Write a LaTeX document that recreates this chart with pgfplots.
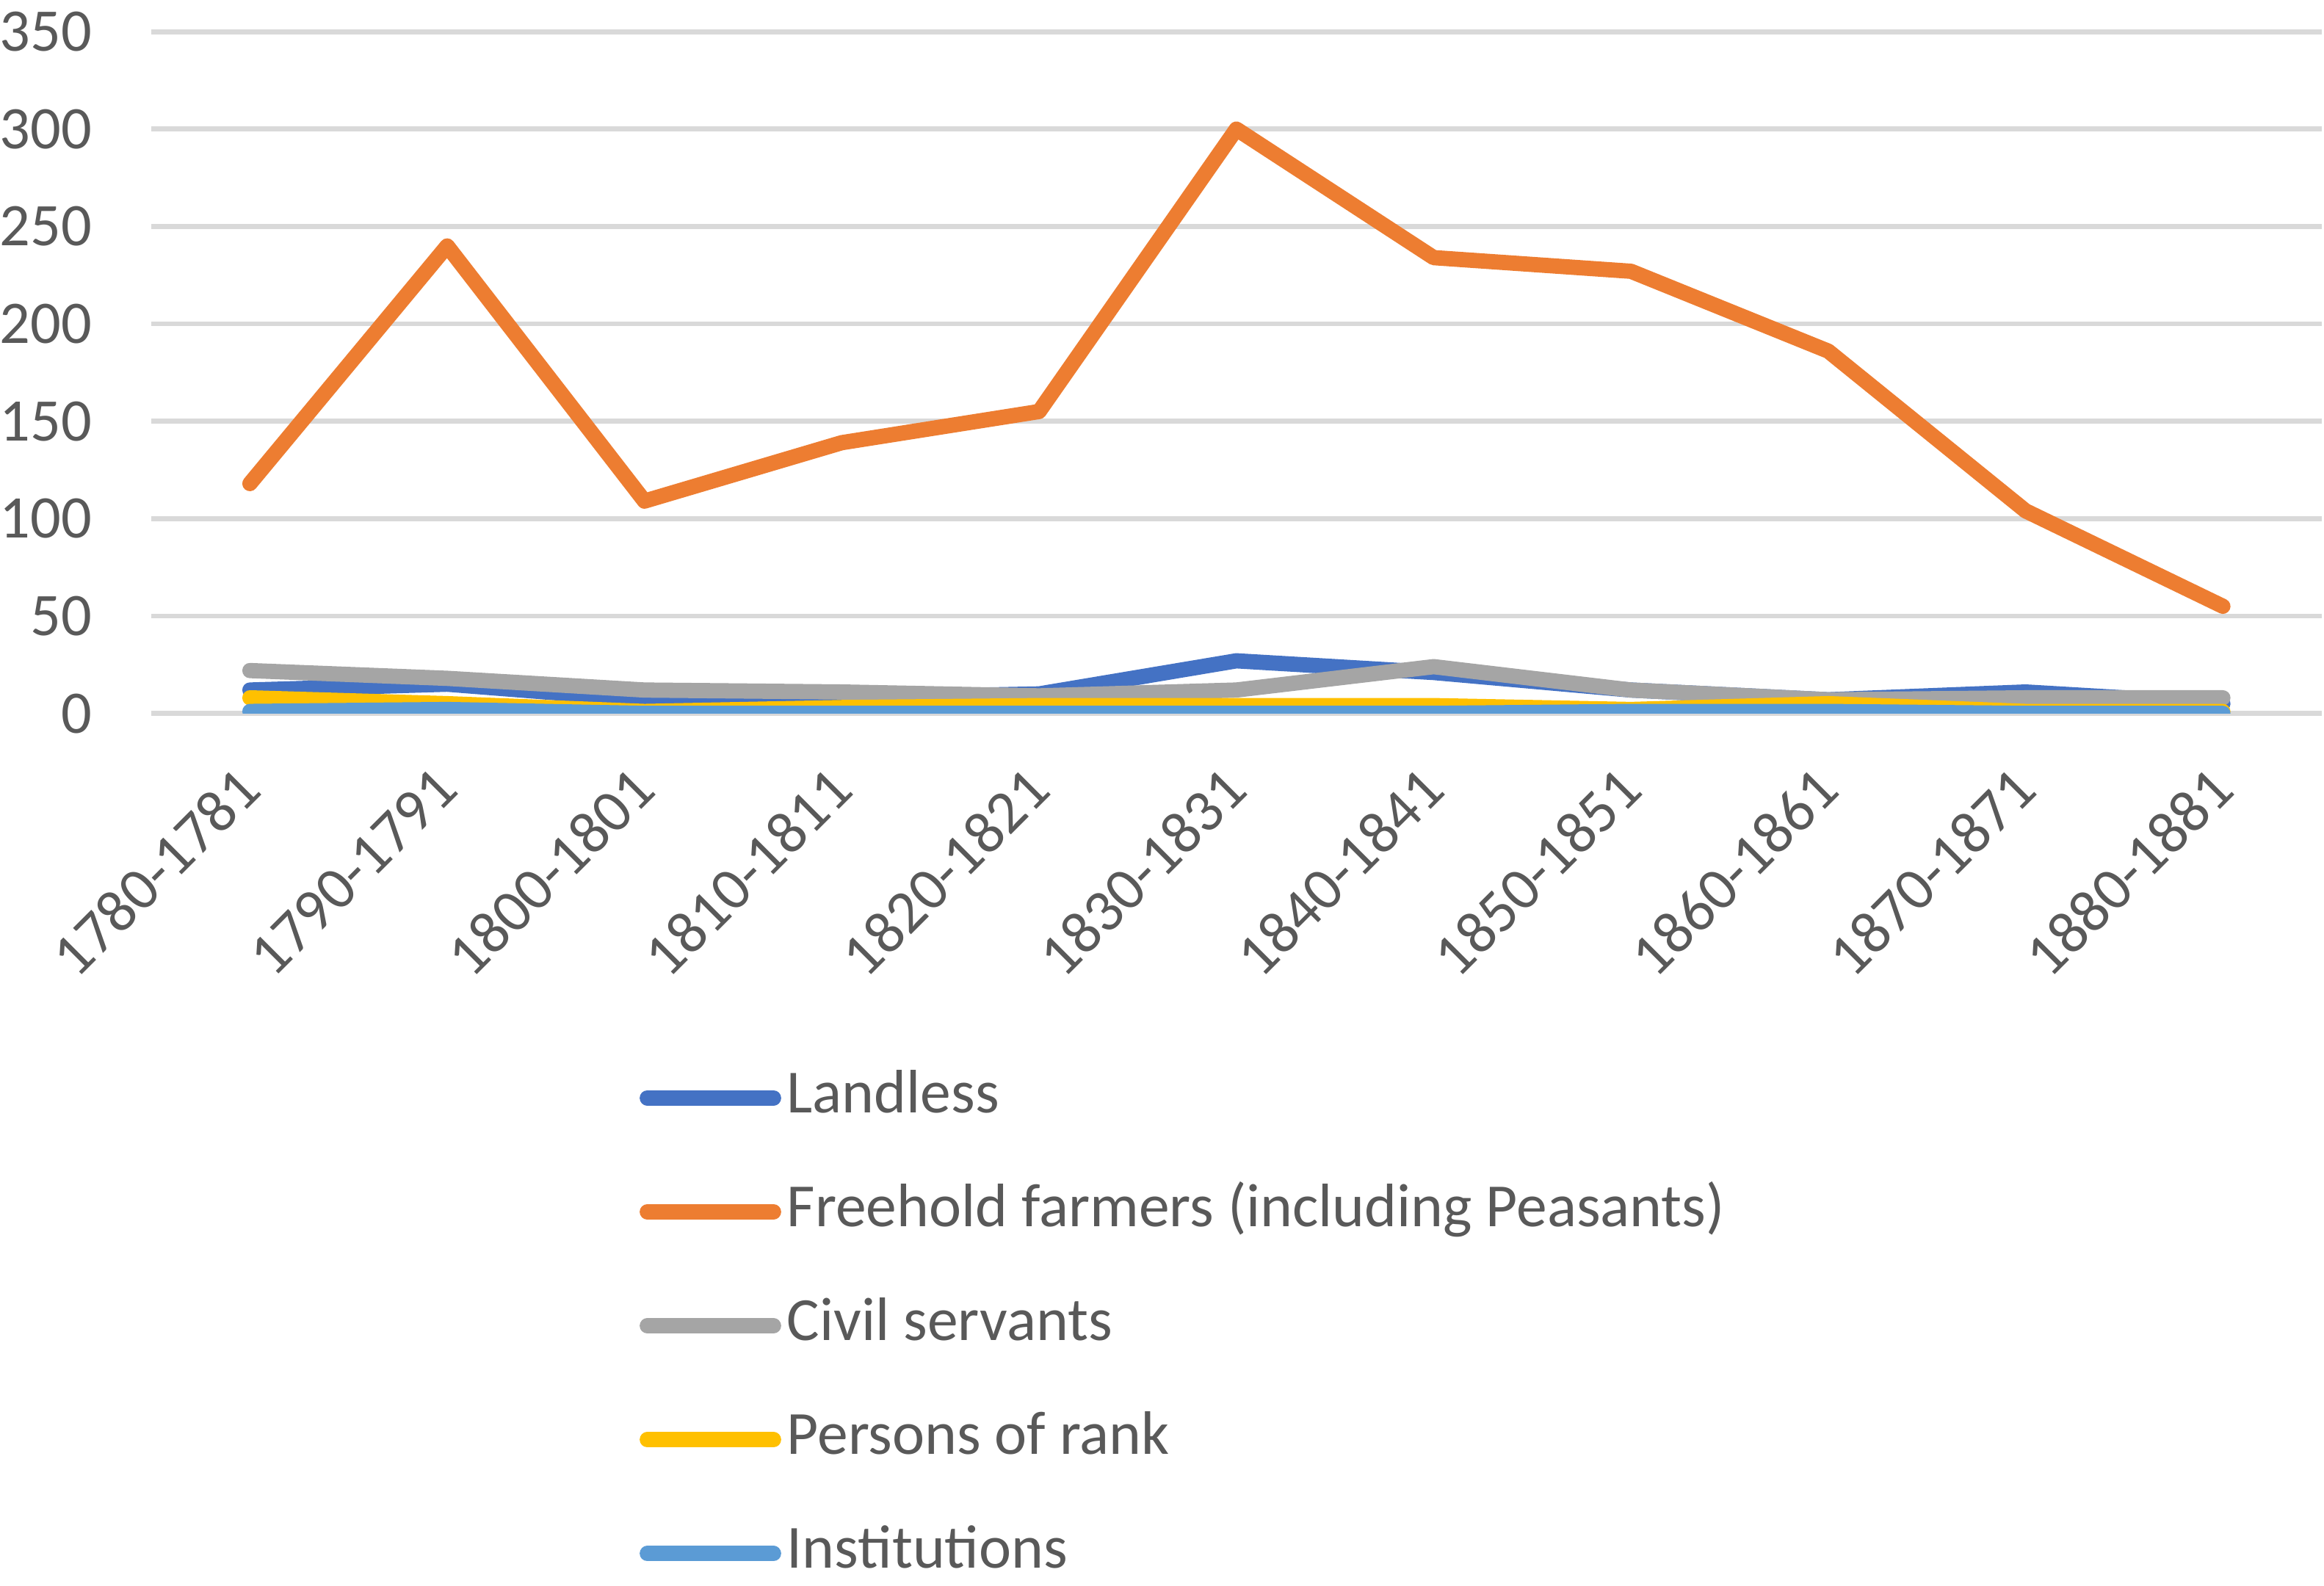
\documentclass[border=0pt]{standalone}
\usepackage{pgfplots}
\pgfplotsset{compat=1.18}
\usepackage{fontspec}
\setmainfont{Carlito}
\definecolor{cLand}{HTML}{4472C4}
\definecolor{cFree}{HTML}{ED7D31}
\definecolor{cCivil}{HTML}{A5A5A5}
\definecolor{cRank}{HTML}{FFC000}
\definecolor{cInst}{HTML}{5B9BD5}
\definecolor{cGrid}{HTML}{D9D9D9}
\definecolor{cText}{HTML}{595959}
\begin{document}
\begin{tikzpicture}
\begin{axis}[
  at={(0,0)}, anchor=south west,
  scale only axis,
  width=369.6pt, height=116.1pt,
  xmin=-0.5, xmax=10.5,
  ymin=0, ymax=350,
  ytick={0,50,...,350},
  xtick={0,...,10},
  xticklabels={1780-1781,1790-1791,1800-1801,1810-1811,1820-1821,1830-1831,1840-1841,1850-1851,1860-1861,1870-1871,1880-1881},
  axis line style={draw=none},
  major tick length=0pt,
  ymajorgrids,
  grid style={cGrid, line width=0.85pt},
  font=\fontsize{10.3}{12}\selectfont,
  tick label style={text=cText},
  /pgf/number format/assume math mode=true,
  yticklabel style={anchor=east, inner sep=0pt, xshift=-9.9pt},
  xticklabel style={rotate=45, anchor=east, inner sep=0pt},
  xticklabel shift=11pt,
  every axis plot/.append style={line width=2.6pt, line cap=round, line join=round, no markers},
  legend style={at={(rel axis cs:0.2245,-0.515)}, anchor=north west, draw=none, fill=none,
    inner sep=0pt, row sep=8.4pt, text=cText,
    font=\fontsize{10.45}{12}\selectfont,
    nodes={inner sep=1pt, text height=7pt, text depth=2pt}},
  legend cell align=left,
  legend image code/.code={\draw[#1, line width=2.6pt, line cap=round] (1.3pt,0pt) -- (22.8pt,0pt);},
]
\addplot[cLand] coordinates {(0,12) (1,15) (2,7) (3,8) (4,10) (5,27) (6,21) (7,12) (8,7) (9,11) (10,5)};
\addlegendentry{Landless}
\addplot[cFree] coordinates {(0,118) (1,240) (2,109) (3,139) (4,155) (5,300) (6,234) (7,227) (8,186) (9,104) (10,55)};
\addlegendentry{Freehold farmers (including Peasants)}
\addplot[cCivil] coordinates {(0,22) (1,18) (2,12) (3,11) (4,9) (5,12) (6,24) (7,12) (8,7) (9,8) (10,8)};
\addlegendentry{Civil servants}
\addplot[cRank] coordinates {(0,8) (1,5) (2,1) (3,3) (4,4) (5,4) (6,4) (7,2) (8,5) (9,1) (10,1)};
\addlegendentry{Persons of rank}
\addplot[cInst] coordinates {(0,1) (1,2) (2,0) (3,0) (4,0) (5,0) (6,0) (7,1) (8,1) (9,0) (10,0)};
\addlegendentry{Institutions}
\end{axis}
\path (10pt,121.5pt);
\end{tikzpicture}
\end{document}
